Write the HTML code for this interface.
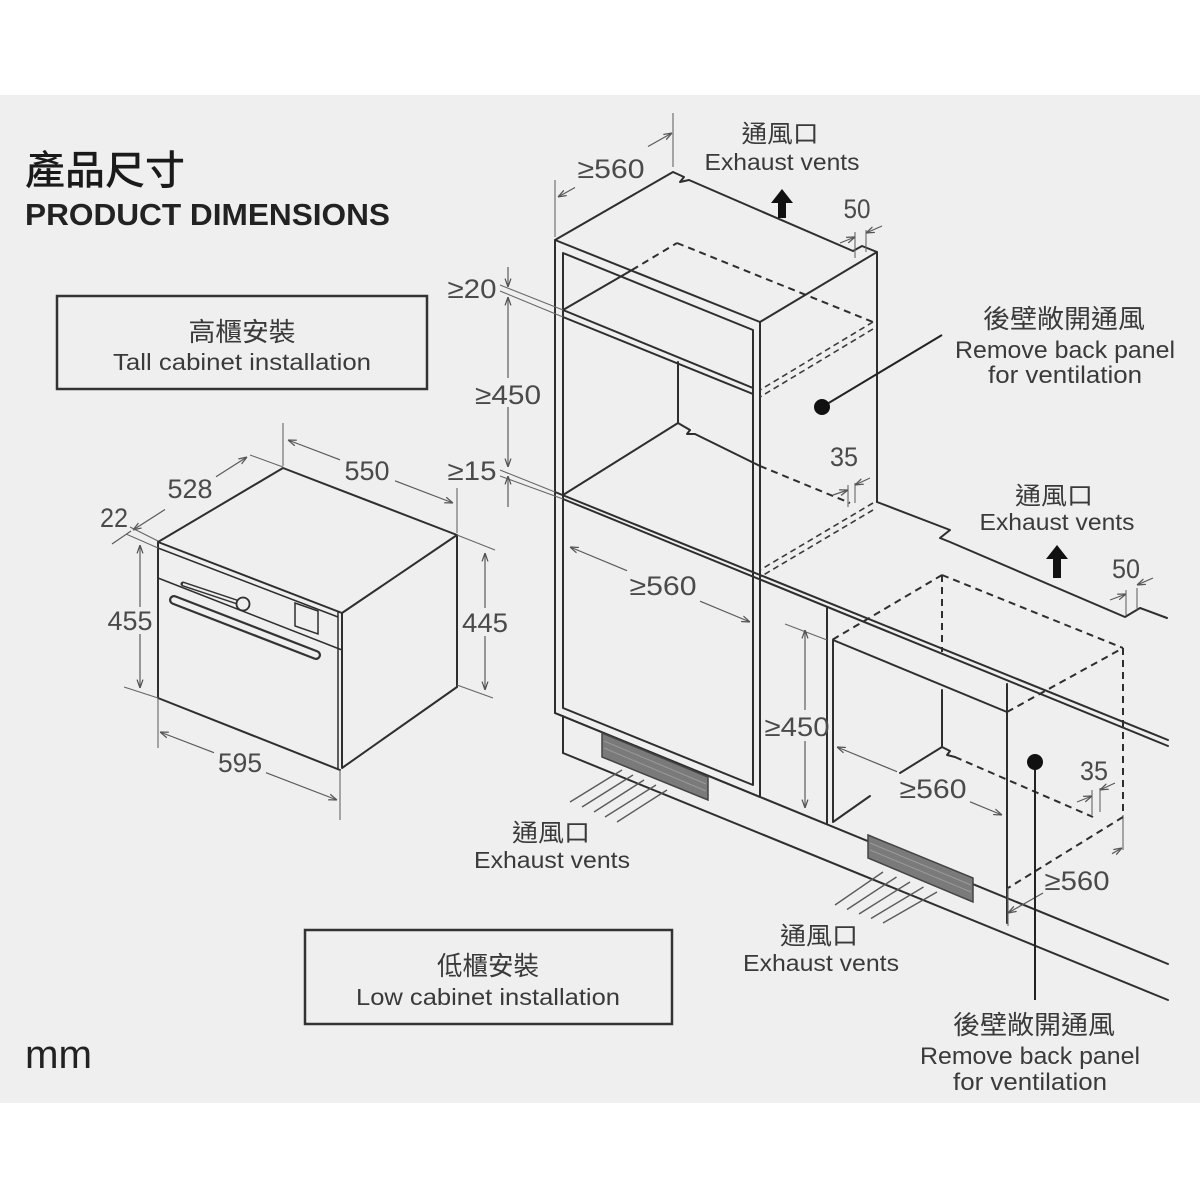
<!DOCTYPE html>
<html><head><meta charset="utf-8"><style>
html,body{margin:0;padding:0;background:#fff;}
svg{display:block}
.m{fill:none;stroke:#2e2e2e;stroke-width:2;stroke-linejoin:round;stroke-linecap:round}
.t{fill:none;stroke:#2e2e2e;stroke-width:1.5}
.d{fill:none;stroke:#5a5a5a;stroke-width:1.2}
.e{fill:none;stroke:#666;stroke-width:1.1}
.ds{fill:none;stroke:#2e2e2e;stroke-width:2;stroke-dasharray:7 5}
.ds2{fill:none;stroke:#3a3a3a;stroke-width:1.6;stroke-dasharray:6 4}
.n{font-family:"Liberation Sans",sans-serif;font-size:27px;fill:#4a4a4a;text-anchor:middle}
.l{font-family:"Liberation Sans","Noto Sans CJK TC",sans-serif;fill:#3a3a3a;text-anchor:middle}
.c{font-family:"Liberation Sans","Noto Sans CJK TC",sans-serif;fill:#3a3a3a;text-anchor:middle}
.air{stroke:#5a5a5a;stroke-width:1.4;fill:none}
</style></head><body>
<svg width="1200" height="1200" viewBox="0 0 1200 1200" xmlns="http://www.w3.org/2000/svg">
<defs>
<marker id="ar" viewBox="0 0 10 10" refX="10" refY="5" markerWidth="7" markerHeight="7" orient="auto"><path d="M0,1.5 L10,5 L0,8.5" fill="none" stroke="#555" stroke-width="1.5"/></marker>
</defs>
<rect x="0" y="95" width="1200" height="1008" fill="#efefef"/>

<!-- Titles -->
<text x="25" y="184" font-family="'Liberation Sans','Noto Sans CJK TC',sans-serif" font-size="40" font-weight="500" fill="#1a1a1a" textLength="160" lengthAdjust="spacingAndGlyphs">產品尺寸</text>
<text x="25" y="225" font-family="'Liberation Sans',sans-serif" font-size="31" font-weight="bold" fill="#222" textLength="365" lengthAdjust="spacingAndGlyphs">PRODUCT DIMENSIONS</text>

<!-- Tall cabinet box -->
<rect x="57" y="296" width="370" height="93" fill="none" stroke="#333" stroke-width="2.5"/>
<text class="c" x="242" y="341" font-size="26" textLength="107" lengthAdjust="spacingAndGlyphs">高櫃安裝</text>
<text class="l" x="242" y="370" font-size="23" textLength="258" lengthAdjust="spacingAndGlyphs">Tall cabinet installation</text>

<!-- Low cabinet box -->
<rect x="305" y="930" width="367" height="94" fill="none" stroke="#333" stroke-width="2.5"/>
<text class="c" x="488" y="975" font-size="26" textLength="102" lengthAdjust="spacingAndGlyphs">低櫃安裝</text>
<text class="l" x="488" y="1005" font-size="23" textLength="264" lengthAdjust="spacingAndGlyphs">Low cabinet installation</text>

<text x="25" y="1068" font-family="'Liberation Sans',sans-serif" font-size="40" fill="#222" textLength="67" lengthAdjust="spacingAndGlyphs">mm</text>

<!-- ================= OVEN ================= -->
<path class="m" d="M158,542 L283,468 L457,535 L342,613 Z"/>
<path class="m" d="M158,542 V698 L340,770"/>
<path class="m" d="M342,613 V768 L457,687 V535"/>
<line class="t" x1="338" y1="611" x2="338" y2="770"/>
<line class="t" x1="158" y1="548" x2="338" y2="617"/>
<line class="t" x1="158" y1="578" x2="342" y2="650"/>
<line x1="183" y1="584" x2="237" y2="602" stroke="#333" stroke-width="5" stroke-linecap="round"/>
<line x1="183" y1="584" x2="237" y2="602" stroke="#efefef" stroke-width="2"/>
<circle cx="243" cy="604" r="6.5" fill="#efefef" stroke="#2e2e2e" stroke-width="1.8"/>
<path class="t" d="M295,603 L318,611 L318,634 L295,626 Z" stroke-width="1.8"/>
<line x1="174" y1="600" x2="316" y2="655" stroke="#333" stroke-width="10" stroke-linecap="round"/>
<line x1="174" y1="600" x2="316" y2="655" stroke="#efefef" stroke-width="5.5" stroke-linecap="round"/>

<!-- oven dims -->
<line class="e" x1="283" y1="423" x2="283" y2="466"/>
<line class="e" x1="457" y1="488" x2="457" y2="533"/>
<line class="d" x1="340" y1="459.8" x2="288" y2="440" marker-end="url(#ar)"/>
<line class="d" x1="395" y1="480.8" x2="453" y2="503" marker-end="url(#ar)"/>
<text class="n" x="367" y="480" textLength="45" lengthAdjust="spacingAndGlyphs">550</text>

<line class="e" x1="250" y1="455" x2="283" y2="467"/>
<line class="d" x1="216" y1="476.8" x2="247" y2="457" marker-end="url(#ar)"/>
<line class="d" x1="165" y1="509.5" x2="133" y2="530" marker-end="url(#ar)"/>
<line class="d" x1="131" y1="531" x2="112" y2="544"/>
<line class="e" x1="130" y1="527" x2="158" y2="541"/>
<line class="e" x1="126" y1="534" x2="158" y2="548"/>
<text class="n" x="190" y="498" textLength="45" lengthAdjust="spacingAndGlyphs">528</text>
<text class="n" x="114" y="527" textLength="28" lengthAdjust="spacingAndGlyphs">22</text>

<line class="d" x1="140" y1="607" x2="140" y2="545" marker-end="url(#ar)"/>
<line class="d" x1="140" y1="634" x2="140" y2="688" marker-end="url(#ar)"/>
<line class="e" x1="124" y1="687" x2="158" y2="698"/>
<text class="n" x="130" y="630" textLength="45" lengthAdjust="spacingAndGlyphs">455</text>

<line class="e" x1="158" y1="698" x2="158" y2="748"/>
<line class="e" x1="340" y1="770" x2="340" y2="820"/>
<line class="d" x1="214" y1="752.7" x2="160" y2="732" marker-end="url(#ar)"/>
<line class="d" x1="266" y1="772.7" x2="337" y2="800" marker-end="url(#ar)"/>
<text class="n" x="240" y="772" textLength="44" lengthAdjust="spacingAndGlyphs">595</text>

<line class="e" x1="457" y1="535" x2="495" y2="550"/>
<line class="e" x1="457" y1="685" x2="493" y2="698"/>
<line class="d" x1="485" y1="608" x2="485" y2="553" marker-end="url(#ar)"/>
<line class="d" x1="485" y1="636" x2="485" y2="690" marker-end="url(#ar)"/>
<text class="n" x="485" y="632" textLength="46" lengthAdjust="spacingAndGlyphs">445</text>

<!-- ================= TALL CABINET ================= -->
<path class="m" d="M555,240 L673,172 L684,177 L680,182 L689,180 L853,251 L862,246 L877,252 L760,322 Z"/>
<line class="m" x1="877" y1="252" x2="877" y2="502"/>
<path class="m" d="M555,240 V713 L760,797 V322"/>
<path class="m" d="M563,253 L753,330 V785 L563,708 Z"/>
<line class="m" x1="563" y1="310" x2="753" y2="388"/>
<line class="m" x1="563" y1="317" x2="753" y2="394"/>
<line class="m" x1="563" y1="310" x2="632" y2="270"/>
<line class="ds" x1="632" y1="270" x2="677" y2="243"/>
<line class="ds" x1="677" y1="243" x2="873" y2="322"/>
<line class="ds2" x1="873" y1="322" x2="760" y2="390"/>
<line class="ds2" x1="873" y1="329" x2="760" y2="397"/>
<line class="m" x1="678" y1="362" x2="678" y2="423"/>
<path class="m" d="M563,495 L678,423 L690,430 L687,434 L695,434 L760,466"/>
<line class="ds" x1="760" y1="466" x2="850" y2="503"/>
<line class="ds2" x1="873" y1="503" x2="760" y2="570"/>
<line class="ds2" x1="873" y1="510" x2="760" y2="577"/>
<path class="m" d="M877,502 L950,530 L940,538 L950,542 L1125,617 L1140,608 L1167,618"/>
<line class="m" x1="555" y1="492" x2="1168" y2="740"/>
<line class="m" x1="563" y1="499" x2="1168" y2="746"/>
<line class="e" x1="500" y1="470" x2="555" y2="492"/>
<line class="e" x1="500" y1="476" x2="563" y2="499"/>
<line class="e" x1="500" y1="285" x2="563" y2="310"/>
<line class="e" x1="500" y1="291" x2="563" y2="317"/>
<line class="m" x1="555" y1="713" x2="1168" y2="964"/>
<line class="m" x1="563" y1="753" x2="1168" y2="1000"/>
<line class="m" x1="563" y1="716" x2="563" y2="753"/>

<path d="M602,733 L708,777 L708,800 L602,757 Z" fill="#7a7a7a" stroke="#444" stroke-width="1.5"/>
<line x1="604" y1="741" x2="706" y2="784" stroke="#9a9a9a" stroke-width="1"/>
<line x1="604" y1="748" x2="706" y2="791" stroke="#9a9a9a" stroke-width="1"/>
<g class="air">
<line x1="622" y1="770" x2="570" y2="802"/>
<line x1="633" y1="775" x2="582" y2="807"/>
<line x1="644" y1="780" x2="594" y2="812"/>
<line x1="656" y1="785" x2="605" y2="817"/>
<line x1="667" y1="790" x2="617" y2="822"/>
</g>

<line class="e" x1="555" y1="180" x2="555" y2="237"/>
<line class="e" x1="673" y1="113" x2="673" y2="167"/>
<line class="d" x1="575" y1="187.5" x2="558" y2="197" marker-end="url(#ar)"/>
<line class="d" x1="648" y1="146.5" x2="672" y2="133" marker-end="url(#ar)"/>
<text class="n" x="611" y="178" textLength="67" lengthAdjust="spacingAndGlyphs">≥560</text>

<line class="e" x1="855" y1="232" x2="855" y2="258"/>
<line class="e" x1="866" y1="230" x2="866" y2="252"/>
<line class="d" x1="840" y1="243" x2="855" y2="237" marker-end="url(#ar)"/>
<line class="d" x1="882" y1="226" x2="866" y2="233" marker-end="url(#ar)"/>
<text class="n" x="857" y="218" textLength="27" lengthAdjust="spacingAndGlyphs">50</text>

<line class="d" x1="508" y1="267" x2="508" y2="287" marker-end="url(#ar)"/>
<line class="d" x1="508" y1="378" x2="508" y2="297" marker-end="url(#ar)"/>
<line class="d" x1="508" y1="407" x2="508" y2="467" marker-end="url(#ar)"/>
<line class="d" x1="508" y1="507" x2="508" y2="476" marker-end="url(#ar)"/>
<text class="n" x="472" y="298" textLength="49" lengthAdjust="spacingAndGlyphs">≥20</text>
<text class="n" x="508" y="404" textLength="66" lengthAdjust="spacingAndGlyphs">≥450</text>
<text class="n" x="472" y="480" textLength="49" lengthAdjust="spacingAndGlyphs">≥15</text>

<line class="e" x1="848" y1="485" x2="848" y2="507"/>
<line class="e" x1="855" y1="483" x2="855" y2="503"/>
<line class="d" x1="833" y1="495" x2="848" y2="490" marker-end="url(#ar)"/>
<line class="d" x1="870" y1="478" x2="855" y2="485" marker-end="url(#ar)"/>
<text class="n" x="844" y="466" textLength="28" lengthAdjust="spacingAndGlyphs">35</text>

<line class="d" x1="627" y1="570.7" x2="570" y2="547" marker-end="url(#ar)"/>
<line class="d" x1="700" y1="601.2" x2="750" y2="622" marker-end="url(#ar)"/>
<text class="n" x="663" y="595" textLength="67" lengthAdjust="spacingAndGlyphs">≥560</text>

<path d="M782,189 L793,203 L786,203 L786,218 L778,218 L778,203 L771,203 Z" fill="#111"/>
<path d="M1057,545 L1068,559 L1061,559 L1061,578 L1053,578 L1053,559 L1046,559 Z" fill="#111"/>

<line x1="822" y1="407" x2="942" y2="335" stroke="#222" stroke-width="2"/>
<circle cx="822" cy="407" r="8" fill="#111"/>

<!-- ================= LOW CABINET ================= -->
<line class="m" x1="827" y1="608" x2="827" y2="823"/>
<line class="m" x1="833" y1="640" x2="833" y2="821"/>
<line class="m" x1="833" y1="640" x2="1007" y2="712"/>
<line class="m" x1="1007" y1="684" x2="1007" y2="923"/>
<line class="m" x1="942" y1="690" x2="942" y2="747"/>
<path class="m" d="M900,773 L942,747 L950,751 L947,755 L955,757"/>
<line class="m" x1="833" y1="822" x2="870" y2="796"/>
<line class="ds" x1="955" y1="757" x2="1093" y2="817"/>
<line class="ds" x1="942" y1="575" x2="1123" y2="648"/>
<line class="ds" x1="942" y1="575" x2="832" y2="640"/>
<line class="ds" x1="1007" y1="712" x2="1123" y2="648"/>
<line class="ds" x1="942" y1="575" x2="942" y2="652"/>
<line class="ds" x1="1123" y1="648" x2="1123" y2="815"/>
<line class="e" x1="1123" y1="815" x2="1123" y2="850"/>
<line class="ds" x1="1123" y1="817" x2="1008" y2="888"/>

<path d="M868,835 L973,878 L973,902 L868,858 Z" fill="#7a7a7a" stroke="#444" stroke-width="1.5"/>
<line x1="870" y1="843" x2="971" y2="885" stroke="#9a9a9a" stroke-width="1"/>
<line x1="870" y1="850" x2="971" y2="892" stroke="#9a9a9a" stroke-width="1"/>
<g class="air">
<line x1="883" y1="872" x2="835" y2="905"/>
<line x1="896.5" y1="877" x2="847" y2="909.5"/>
<line x1="910" y1="882" x2="859" y2="914"/>
<line x1="923.5" y1="887" x2="871" y2="918.5"/>
<line x1="937" y1="892" x2="883" y2="923"/>
</g>

<line class="e" x1="785" y1="624" x2="827" y2="640"/>
<line class="d" x1="805" y1="710" x2="805" y2="630" marker-end="url(#ar)"/>
<line class="d" x1="805" y1="741" x2="805" y2="808" marker-end="url(#ar)"/>
<text class="n" x="797" y="736" textLength="65" lengthAdjust="spacingAndGlyphs">≥450</text>

<line class="d" x1="897" y1="771.7" x2="837" y2="747" marker-end="url(#ar)"/>
<line class="d" x1="970" y1="801.8" x2="1002" y2="815" marker-end="url(#ar)"/>
<text class="n" x="933" y="798" textLength="67" lengthAdjust="spacingAndGlyphs">≥560</text>

<line class="e" x1="1008" y1="888" x2="1008" y2="926"/>
<line class="d" x1="1043" y1="893" x2="1008" y2="913" marker-end="url(#ar)"/>
<line class="d" x1="1112" y1="853.7" x2="1122" y2="848" marker-end="url(#ar)"/>
<text class="n" x="1077" y="890" textLength="65" lengthAdjust="spacingAndGlyphs">≥560</text>

<line class="e" x1="1092" y1="790" x2="1092" y2="815"/>
<line class="e" x1="1100" y1="788" x2="1100" y2="812"/>
<line class="d" x1="1077" y1="802" x2="1092" y2="796" marker-end="url(#ar)"/>
<line class="d" x1="1115" y1="783" x2="1100" y2="790" marker-end="url(#ar)"/>
<text class="n" x="1094" y="780" textLength="28" lengthAdjust="spacingAndGlyphs">35</text>

<line class="e" x1="1126" y1="590" x2="1126" y2="615"/>
<line class="e" x1="1137" y1="588" x2="1137" y2="610"/>
<line class="d" x1="1110" y1="600" x2="1126" y2="594" marker-end="url(#ar)"/>
<line class="d" x1="1153" y1="578" x2="1137" y2="585" marker-end="url(#ar)"/>
<text class="n" x="1126" y="578" textLength="28" lengthAdjust="spacingAndGlyphs">50</text>

<line x1="1035" y1="762" x2="1035" y2="1000" stroke="#222" stroke-width="2"/>
<circle cx="1035" cy="762" r="8" fill="#111"/>

<!-- ================= LABELS ================= -->
<text class="c" x="780" y="142" font-size="24" textLength="77" lengthAdjust="spacingAndGlyphs">通風口</text>
<text class="l" x="782" y="170" font-size="23" textLength="155" lengthAdjust="spacingAndGlyphs">Exhaust vents</text>

<text class="c" x="1064" y="328" font-size="26" textLength="162" lengthAdjust="spacingAndGlyphs">後壁敞開通風</text>
<text class="l" x="1065" y="358" font-size="24" textLength="220" lengthAdjust="spacingAndGlyphs">Remove back panel</text>
<text class="l" x="1065" y="383" font-size="24" textLength="154" lengthAdjust="spacingAndGlyphs">for ventilation</text>

<text class="c" x="1054" y="504" font-size="24" textLength="78" lengthAdjust="spacingAndGlyphs">通風口</text>
<text class="l" x="1057" y="530" font-size="23" textLength="155" lengthAdjust="spacingAndGlyphs">Exhaust vents</text>

<text class="c" x="551" y="841" font-size="24" textLength="78" lengthAdjust="spacingAndGlyphs">通風口</text>
<text class="l" x="552" y="868" font-size="23" textLength="156" lengthAdjust="spacingAndGlyphs">Exhaust vents</text>

<text class="c" x="819" y="944" font-size="24" textLength="78" lengthAdjust="spacingAndGlyphs">通風口</text>
<text class="l" x="821" y="971" font-size="23" textLength="156" lengthAdjust="spacingAndGlyphs">Exhaust vents</text>

<text class="c" x="1034" y="1034" font-size="26" textLength="162" lengthAdjust="spacingAndGlyphs">後壁敞開通風</text>
<text class="l" x="1030" y="1064" font-size="24" textLength="220" lengthAdjust="spacingAndGlyphs">Remove back panel</text>
<text class="l" x="1030" y="1090" font-size="24" textLength="154" lengthAdjust="spacingAndGlyphs">for ventilation</text>
</svg>
</body></html>
